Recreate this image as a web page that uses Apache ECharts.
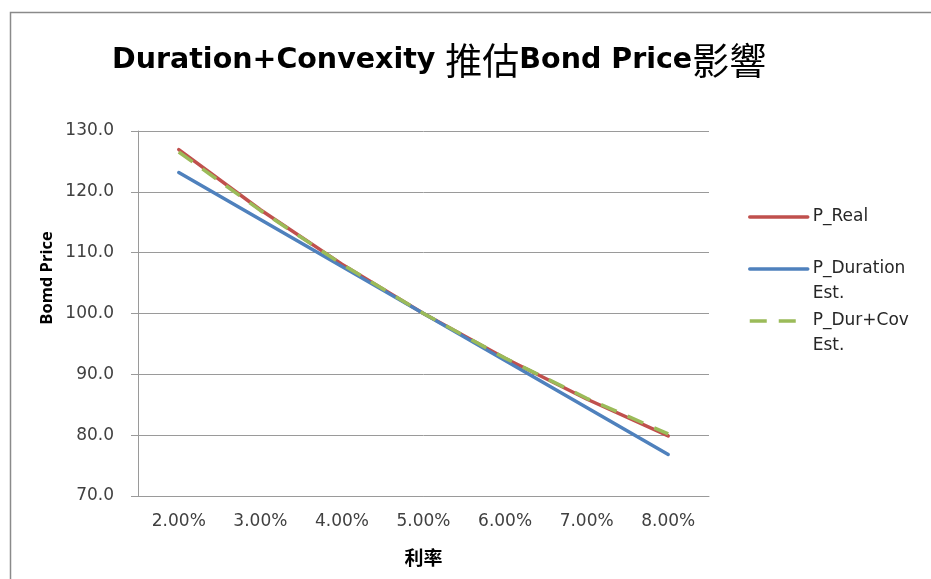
<!DOCTYPE html>
<html>
<head>
<meta charset="utf-8">
<script src="https://cdn.jsdelivr.net/npm/echarts@6/dist/echarts.min.js"></script>
<style>
html,body{margin:0;padding:0;background:#fff;}
#chart{width:931px;height:579px;}
</style>
</head>
<body>
<div id="chart"></div>
<script>
var categories = ['2.00%', '3.00%', '4.00%', '5.00%', '6.00%', '7.00%', '8.00%'];
var pReal = [126.95, 117.06, 108.11, 100.00, 92.64, 85.95, 79.87];
var pDuration = [123.17, 115.44, 107.72, 100.00, 92.28, 84.56, 76.83];
var pDurCov = [126.55, 116.94, 108.10, 100.00, 92.66, 86.06, 80.21];
var seriesNames = ['P_Real', 'P_Duration\nEst.', 'P_Dur+Cov\nEst.'];
var titleParts = ['Duration+Convexity ', '推估', 'Bond Price', '影響'];
var yName = 'Bomd Price';
var xName = '利率';

var chart = echarts.init(document.getElementById('chart'), null, {renderer: 'canvas'});
var labelFont = "'DejaVu Sans', sans-serif";
var boldFont = "'Open Sans', 'Noto Sans CJK TC', sans-serif";
var cjkFont = "'Noto Sans CJK TC', sans-serif";

function legendFor(name, top) {
  return {
    orient: 'vertical',
    left: 748,
    top: top,
    padding: 0,
    itemWidth: 58,
    itemHeight: 14,
    data: [name],
    selectedMode: false,
    formatter: function (n) { return n.indexOf('\n') >= 0 ? ' \n' + n : n; },
    textStyle: {fontFamily: labelFont, fontSize: 17, lineHeight: 25, color: '#262626'},
    itemStyle: {color: 'transparent', borderWidth: 0, borderColor: 'transparent'},
    lineStyle: {width: 3.5}
  };
}

var titleRich = '{a|' + titleParts[0] + '}{c|' + titleParts[1] + '}{a|' + titleParts[2] + '}{c|' + titleParts[3] + '}';

var option = {
  animation: false,
  backgroundColor: '#ffffff',
  title: {
    text: titleRich,
    left: 107,
    top: 36,
    textStyle: {
      fontSize: 28.5,
      rich: {
        a: {fontFamily: "'DejaVu Sans', sans-serif", fontWeight: 'bold', fontSize: 28.5, color: '#000', lineHeight: 40},
        c: {fontFamily: cjkFont, fontWeight: 'normal', fontSize: 37, color: '#000', lineHeight: 40}
      }
    }
  },
  legend: [
    legendFor(seriesNames[0], 204.5),
    legendFor(seriesNames[1], 231.5),
    legendFor(seriesNames[2], 283.5)
  ],
  grid: {left: 138, right: 222, top: 131, bottom: 83, containLabel: false},
  xAxis: {
    type: 'category',
    data: categories,
    boundaryGap: true,
    name: xName,
    nameLocation: 'middle',
    nameGap: 52,
    nameTextStyle: {fontFamily: cjkFont, fontWeight: 'bold', fontSize: 19, color: '#000'},
    axisLine: {show: true, lineStyle: {color: '#9a9a9a', width: 1}},
    axisTick: {show: false},
    axisLabel: {fontFamily: labelFont, fontSize: 17, color: '#404040', margin: 17},
    splitLine: {show: false}
  },
  yAxis: {
    type: 'value',
    min: 70,
    max: 130,
    interval: 10,
    axisLine: {show: true, lineStyle: {color: '#9a9a9a', width: 1}},
    axisTick: {show: true, length: 7, inside: false, lineStyle: {color: '#9a9a9a'}},
    axisLabel: {
      fontFamily: labelFont, fontSize: 17, color: '#404040', margin: 24,
      formatter: function (v) { return v.toFixed(1); }
    },
    splitLine: {show: true, lineStyle: {color: '#9a9a9a', width: 1}}
  },
  graphic: [
    {
      type: 'rect',
      shape: {x: 10.5, y: 12.5, width: 1000, height: 1000},
      style: {fill: 'none', stroke: '#8a8a8a', lineWidth: 1.5},
      silent: true
    },
    {
      type: 'text',
      x: 47,
      y: 278,
      rotation: Math.PI / 2,
      style: {
        text: yName,
        fontFamily: boldFont, fontWeight: 'bold', fontSize: 16.5, fill: '#000',
        align: 'center', verticalAlign: 'middle'
      },
      silent: true
    }
  ],
  series: [
    {
      name: seriesNames[0], type: 'line', data: pReal, symbol: 'none', smooth: false,
      lineStyle: {color: '#C0504D', width: 3.5, cap: 'round', join: 'round'},
      itemStyle: {color: '#C0504D'}
    },
    {
      name: seriesNames[1], type: 'line', data: pDuration, symbol: 'none', smooth: false,
      lineStyle: {color: '#4F81BD', width: 3.5, cap: 'round', join: 'round'},
      itemStyle: {color: '#4F81BD'}
    },
    {
      name: seriesNames[2], type: 'line', data: pDurCov, symbol: 'none', smooth: false,
      lineStyle: {color: '#9BBB59', width: 3.5, type: [17, 12], cap: 'butt', join: 'round'},
      itemStyle: {color: '#9BBB59'}
    }
  ]
};
chart.setOption(option);
</script>
</body>
</html>
